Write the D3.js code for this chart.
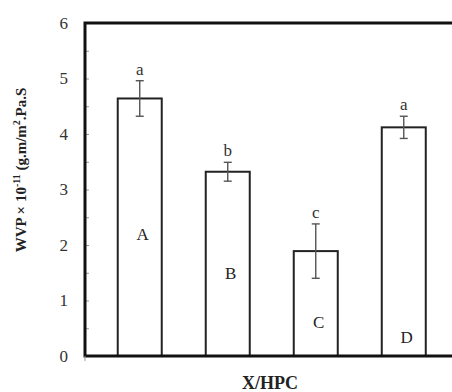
<!DOCTYPE html>
<html>
<head>
<meta charset="utf-8">
<script src="https://cdn.jsdelivr.net/npm/d3@7"></script>
<style>
body { margin: 0; background: #fff; }
text { font-family: "Liberation Serif", "Times New Roman", serif; }
</style>
</head>
<body>
<div id="chart"></div>
<script>
// data
var categories = ["A", "B", "C", "D"];
var values = [4.64, 3.32, 1.89, 4.12];
var errors = [0.32, 0.17, 0.49, 0.2];
var groups = ["a", "b", "c", "a"];
var yTicks = [0, 1, 2, 3, 4, 5, 6];
// where the capital letter sits inside each bar (in data units)
var letterPos = [2.2, 1.5, 0.62, 0.35];

var svgWidth = 452;
var svgHeight = 392;

var svg = d3.select("#chart")
    .append("svg")
    .attr("width", svgWidth)
    .attr("height", svgHeight);

var x0 = 85, yTop = 23, yBottom = 356;

var xScale = d3.scaleBand()
    .domain(categories)
    .range([x0, 458.5])
    .paddingInner(0.5)
    .paddingOuter(0.372);

var yScale = d3.scaleLinear()
    .domain([0, 6])
    .range([yBottom, yTop]);

// half unit ticks inside the axis
var minorAxis = d3.axisRight(yScale)
    .tickValues(d3.range(0, 6.01, 0.5))
    .tickSize(4)
    .tickFormat("");

svg.append("g")
    .attr("transform", `translate(${x0}, 0)`)
    .call(minorAxis)
    .call(g => g.select(".domain").remove())
    .call(g => g.selectAll("line").attr("stroke", "#999").attr("stroke-width", 1));

var leftAxis = d3.axisLeft(yScale)
    .tickValues(yTicks)
    .tickFormat(d3.format("d"))
    .tickSize(0)
    .tickPadding(17);

svg.append("g")
    .attr("transform", `translate(${x0}, 0)`)
    .call(leftAxis)
    .call(g => g.select(".domain").remove())
    .call(g => g.selectAll("text")
        .attr("font-size", "17px")
        .attr("fill", "#333")
        .style("font-family", "Liberation Serif"));

// bars
svg.selectAll("rect.bar")
    .data(values)
    .enter()
    .append("rect")
    .attr("class", "bar")
    .attr("x", (d, i) => xScale(categories[i]))
    .attr("y", d => yScale(d))
    .attr("width", xScale.bandwidth())
    .attr("height", d => yBottom - yScale(d))
    .attr("fill", "#fff")
    .attr("stroke", "#222")
    .attr("stroke-width", 2);

// error bars
var cx = i => xScale(categories[i]) + xScale.bandwidth() / 2;
var errG = svg.append("g")
    .attr("stroke", "#555")
    .attr("stroke-width", 1.4);

values.forEach(function(v, i) {
    var hi = yScale(v + errors[i]), lo = yScale(v - errors[i]);
    errG.append("line").attr("x1", cx(i)).attr("x2", cx(i)).attr("y1", hi).attr("y2", lo);
    errG.append("line").attr("x1", cx(i) - 4).attr("x2", cx(i) + 4).attr("y1", hi).attr("y2", hi);
    errG.append("line").attr("x1", cx(i) - 4).attr("x2", cx(i) + 4).attr("y1", lo).attr("y2", lo);
});

// significance letters
svg.selectAll("text.sig")
    .data(groups)
    .enter()
    .append("text")
    .attr("class", "sig")
    .attr("x", (d, i) => cx(i))
    .attr("y", (d, i) => yScale(values[i] + errors[i]) - 6)
    .attr("text-anchor", "middle")
    .attr("font-size", "17px")
    .attr("fill", "#333")
    .text(d => d);

// category letters inside the bars
svg.selectAll("text.cat")
    .data(categories)
    .enter()
    .append("text")
    .attr("class", "cat")
    .attr("x", (d, i) => cx(i) + 3)
    .attr("y", (d, i) => yScale(letterPos[i]))
    .attr("dy", "0.35em")
    .attr("text-anchor", "middle")
    .attr("font-size", "17px")
    .attr("fill", "#222")
    .text(d => d);

// frame: left, top and bottom lines
svg.append("path")
    .attr("d", `M${svgWidth},${yTop}H${x0}V${yBottom}H${svgWidth}`)
    .attr("fill", "none")
    .attr("stroke", "#111")
    .attr("stroke-width", 3);

svg.append("line")
    .attr("x1", x0).attr("x2", x0)
    .attr("y1", yBottom).attr("y2", yBottom + 5)
    .attr("stroke", "#999");

// axis titles
svg.append("text")
    .attr("transform", `translate(26, 170) rotate(-90)`)
    .attr("text-anchor", "middle")
    .attr("font-size", "15px")
    .attr("font-weight", "bold")
    .attr("fill", "#222")
    .html('WVP × 10<tspan dy="-6" font-size="10px">-11</tspan><tspan dy="6"> (g.m/m</tspan><tspan dy="-6" font-size="10px">2</tspan><tspan dy="6">.Pa.S</tspan>');

svg.append("text")
    .attr("x", 270)
    .attr("y", 389)
    .attr("text-anchor", "middle")
    .attr("font-size", "18px")
    .attr("font-weight", "bold")
    .attr("fill", "#222")
    .text("X/HPC");
</script>
</body>
</html>
